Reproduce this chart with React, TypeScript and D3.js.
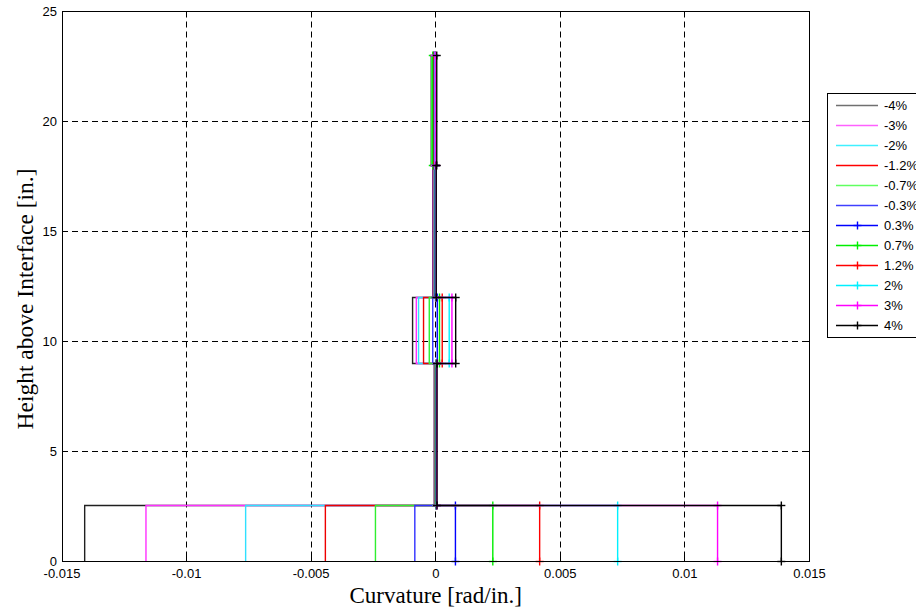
import React from "react";
import * as d3 from "d3";

const levels = ["-4%", "-3%", "-2%", "-1.2%", "-0.7%", "-0.3%", "0.3%", "0.7%", "1.2%", "2%", "3%", "4%"];
const colors = ["#202020", "#ff30ff", "#30e0ff", "#ee0000", "#30ee30", "#3030ff", "#0000ff", "#00ee00", "#ff0000", "#00f0ff", "#ff00ff", "#000000"];
const legendColors = ["#707070", "#ff60ff", "#40f0ff", "#ff0000", "#60ff60", "#4040ff", "#0000ff", "#00ee00", "#ff0000", "#00f0ff", "#ff00ff", "#000000"];
const hasMarker = [false, false, false, false, false, false, true, true, true, true, true, true];

// height breaks [in.]
const heightBreaks = [0, 2.55, 9, 12, 18, 23];
// curvature for each segment [rad/in.]
const baseCurv = [-0.01409, -0.01163, -0.00763, -0.00443, -0.00242, -0.00084, 0.00079, 0.00229, 0.00417, 0.0073, 0.01131, 0.01387];
const lowCurv = [-0.00006, -0.00005, -0.00004, -0.00003, -0.00002, -0.00001, 0.00001, 0.00002, 0.00003, 0.00003, 0.00004, 0.00005];
const midCurv = [-0.00093, -0.00078, -0.00069, -0.00049, -0.00026, -0.00012, 0.00006, 0.00015, 0.00026, 0.00054, 0.00065, 0.0008];
const upperCurv = [-0.00012, -0.0001, -0.00008, -0.00006, -0.00004, -0.00002, -0.00001, 0, 0.00001, 0.00001, 0.00002, 0.00002];
const topCurv = [-0.00018, -0.00016, -0.00014, -0.00012, -0.00016, -0.00009, -0.00008, -0.00012, -0.00006, -0.00004, -0.00002, 0.00004];

const xTicks = [-0.015, -0.01, -0.005, 0, 0.005, 0.01, 0.015];
const xTickLabels = ["-0.015", "-0.01", "-0.005", "0", "0.005", "0.01", "0.015"];
const yTicks = [0, 5, 10, 15, 20, 25];
const yTickLabels = ["0", "5", "10", "15", "20", "25"];

const W = 916;
const H = 609;
const L = 62;
const R = 809.5;
const T = 11.5;
const B = 561.5;

const px = (v: number) => Math.round(v - 0.5) + 0.5;

export default function App() {
  const x = d3.scaleLinear().domain([-0.015, 0.015]).range([L, R]);
  const y = d3.scaleLinear().domain([0, 25]).range([B, T]);
  const segs = [baseCurv, lowCurv, midCurv, upperCurv, topCurv];

  const seriesPts = levels.map((_, i) => {
    const pts: [number, number][] = [];
    segs.forEach((arr, s) => {
      pts.push([arr[i], heightBreaks[s]]);
      pts.push([arr[i], heightBreaks[s + 1]]);
    });
    return pts;
  });

  const line = d3
    .line<[number, number]>()
    .x((d) => x(d[0]))
    .y((d) => px(y(d[1])));

  const tickFont = "'Liberation Sans', Arial, sans-serif";
  const labelFont = "'Liberation Serif', 'Times New Roman', serif";
  const ms = 4;
  const tl = 5;
  const sw = 1.4;

  const legX = 827.5;
  const legTop = 93.5;
  const legBot = 337.5;
  const rowY = (i: number) => 105.5 + i * 20;

  return (
    <svg width={W} height={H} style={{ position: "absolute", left: 0, top: 0, background: "#fff" }}>
      <rect x={0} y={0} width={W} height={H} fill="#fff" />
      {/* grid */}
      <g stroke="#000" strokeWidth={1} strokeDasharray="6 4">
        {xTicks.slice(1, -1).map((t) => (
          <line key={"gx" + t} x1={px(x(t))} x2={px(x(t))} y1={T} y2={B} />
        ))}
        {yTicks.slice(1, -1).map((t) => (
          <line key={"gy" + t} x1={L} x2={R} y1={px(y(t))} y2={px(y(t))} />
        ))}
      </g>
      {/* series */}
      {seriesPts.map((pts, i) => (
        <g key={levels[i]}>
          <path d={line(pts) || ""} fill="none" stroke={colors[i]} strokeWidth={sw} />
          {hasMarker[i] &&
            pts.map((p, k) => {
              const cx = x(p[0]);
              const cy = px(y(p[1]));
              return (
                <g key={k} stroke={colors[i]} strokeWidth={sw}>
                  <line x1={cx - ms} x2={cx + ms} y1={cy} y2={cy} />
                  <line x1={cx} x2={cx} y1={cy - ms} y2={cy + ms} />
                </g>
              );
            })}
        </g>
      ))}
      {/* axes box & ticks */}
      <rect x={L + 0.5} y={T} width={R - L - 0.5} height={B - T} fill="none" stroke="#000" strokeWidth={1} />
      <g stroke="#000" strokeWidth={1}>
        {xTicks.map((t) => (
          <g key={"tx" + t}>
            <line x1={px(x(t))} x2={px(x(t))} y1={B} y2={B - tl} />
            <line x1={px(x(t))} x2={px(x(t))} y1={T} y2={T + tl} />
          </g>
        ))}
        {yTicks.map((t) => (
          <g key={"ty" + t}>
            <line x1={L} x2={L + tl} y1={px(y(t))} y2={px(y(t))} />
            <line x1={R} x2={R - tl} y1={px(y(t))} y2={px(y(t))} />
          </g>
        ))}
      </g>
      <g fontFamily={tickFont} fontSize={13} fill="#000">
        {xTicks.map((t, i) => (
          <text key={"lx" + t} x={x(t)} y={578} textAnchor="middle">
            {xTickLabels[i]}
          </text>
        ))}
        {yTicks.map((t, i) => (
          <text key={"ly" + t} x={57} y={y(t) + 4} textAnchor="end">
            {yTickLabels[i]}
          </text>
        ))}
      </g>
      <text x={(L + R) / 2} y={603} textAnchor="middle" fontFamily={labelFont} fontSize={23}>
        Curvature [rad/in.]
      </text>
      <text
        transform={`translate(33,299) rotate(-90)`}
        textAnchor="middle"
        fontFamily={labelFont}
        fontSize={23.5}
      >
        Height above Interface [in.]
      </text>
      {/* legend */}
      <rect x={legX} y={legTop} width={100} height={legBot - legTop} fill="#fff" stroke="#000" strokeWidth={1} />
      {levels.map((lv, i) => (
        <g key={"leg" + lv}>
          <line x1={836} x2={878} y1={rowY(i)} y2={rowY(i)} stroke={legendColors[i]} strokeWidth={sw} />
          {hasMarker[i] && (
            <g stroke={legendColors[i]} strokeWidth={sw}>
              <line x1={857.5 - ms} x2={857.5 + ms} y1={rowY(i)} y2={rowY(i)} />
              <line x1={857.5} x2={857.5} y1={rowY(i) - ms} y2={rowY(i) + ms} />
            </g>
          )}
          <text x={884} y={rowY(i) + 4.5} fontFamily={tickFont} fontSize={13}>
            {lv}
          </text>
        </g>
      ))}
    </svg>
  );
}
